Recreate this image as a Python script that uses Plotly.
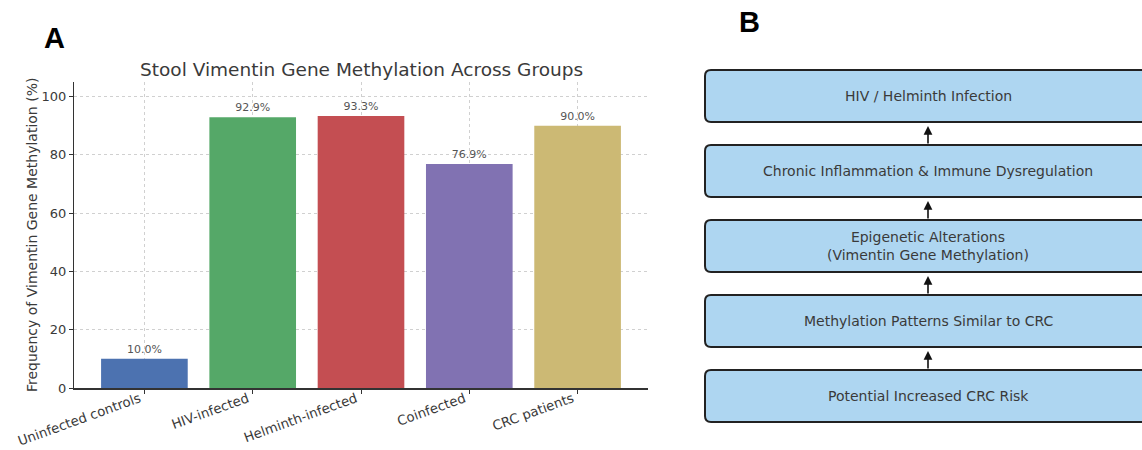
import plotly.graph_objects as go

# ---------------- data ----------------
groups = ["Uninfected controls", "HIV-infected", "Helminth-infected", "Coinfected", "CRC patients"]
methylation_pct = [10.0, 92.9, 93.3, 76.9, 90.0]
bar_colors = ["#4C72B0", "#55A868", "#C44E52", "#8172B2", "#CCB974"]
y_ticks = [0, 20, 40, 60, 80, 100]

flow_steps = [
    "HIV / Helminth Infection",
    "Chronic Inflammation & Immune Dysregulation",
    "Epigenetic Alterations<br>(Vimentin Gene Methylation)",
    "Methylation Patterns Similar to CRC",
    "Potential Increased CRC Risk",
]

W, H = 1142, 450
FONT = "DejaVu Sans"
TXT = "#3a3a3a"

fig = go.Figure()

# ---------------- panel A: bar chart ----------------
fig.add_trace(go.Bar(
    x=groups, y=methylation_pct,
    marker=dict(color=bar_colors, line=dict(width=0)),
    width=0.8,
    text=[f"{v:.1f}%" for v in methylation_pct],
    textposition="outside",
    textfont=dict(family=FONT, size=11, color="#555"),
    cliponaxis=False,
    xaxis="x", yaxis="y",
    showlegend=False,
))

# ---------------- panel B: flow chart ----------------
B_LEFT = 665
bx0, bx1 = 705, 1151
top0, step, bh, r = 70, 75, 52, 6
shapes = []
annotations = []
for i, label in enumerate(flow_steps):
    y0 = top0 + i * step
    y1 = y0 + bh
    path = (f"M {bx0+r},{y0} L {bx1-r},{y0} Q {bx1},{y0} {bx1},{y0+r} "
            f"L {bx1},{y1-r} Q {bx1},{y1} {bx1-r},{y1} L {bx0+r},{y1} "
            f"Q {bx0},{y1} {bx0},{y1-r} L {bx0},{y0+r} Q {bx0},{y0} {bx0+r},{y0} Z")
    shapes.append(dict(type="path", path=path, xref="x2", yref="y2",
                       fillcolor="#AED6F1", line=dict(color="#222", width=2), layer="below"))
    annotations.append(dict(x=(bx0 + bx1) / 2, y=(y0 + y1) / 2, xref="x2", yref="y2",
                            text=label, showarrow=False,
                            font=dict(family=FONT, size=14, color=TXT)))
    if i > 0:
        prev_bottom = top0 + (i - 1) * step + bh
        annotations.append(dict(x=(bx0 + bx1) / 2, y=prev_bottom + 4, xref="x2", yref="y2",
                                ax=(bx0 + bx1) / 2, ay=y0, axref="x2", ayref="y2",
                                text="", showarrow=True, arrowhead=2, arrowsize=1.1,
                                arrowwidth=1.6, arrowcolor="#111"))

# hidden trace to anchor panel B axes
fig.add_trace(go.Scatter(x=[bx0], y=[top0], xaxis="x2", yaxis="y2", mode="markers",
                         marker=dict(opacity=0), showlegend=False, hoverinfo="skip"))

# ---------------- text ----------------
annotations += [
    dict(text="Stool Vimentin Gene Methylation Across Groups", x=361 / W, y=1 - 69 / H,
         xref="paper", yref="paper", showarrow=False, xanchor="center", yanchor="middle",
         font=dict(family=FONT, size=18.5, color=TXT)),
    dict(text="Frequency of Vimentin Gene Methylation (%)", x=32 / W, y=1 - 235 / H,
         xref="paper", yref="paper", showarrow=False, textangle=-90,
         xanchor="center", yanchor="middle",
         font=dict(family=FONT, size=14, color=TXT)),
    dict(text="<b>A</b>", x=55 / W, y=1 - 38 / H, xref="paper", yref="paper",
         showarrow=False, xanchor="center", yanchor="middle",
         font=dict(family="Liberation Sans", size=29, color="#000")),
    dict(text="<b>B</b>", x=749 / W, y=1 - 22 / H, xref="paper", yref="paper",
         showarrow=False, xanchor="center", yanchor="middle",
         font=dict(family="Liberation Sans", size=29, color="#000")),
]

fig.update_layout(
    width=W, height=H,
    margin=dict(l=0, r=0, t=0, b=0, autoexpand=False),
    paper_bgcolor="white", plot_bgcolor="rgba(0,0,0,0)",
    bargap=0.2,
    xaxis=dict(domain=[74 / W, 648 / W], range=[-0.65, 4.65], automargin=False,
               showgrid=True, gridcolor="#d0d0d0", griddash="dot", gridwidth=1,
               showline=True, linecolor="#333", linewidth=2,
               ticks="outside", ticklen=4, tickcolor="#333", tickangle=-20,
               ticklabelshift=-5, ticklabelstandoff=-8,
               tickfont=dict(family=FONT, size=13.3, color=TXT), zeroline=False,
               anchor="y"),
    yaxis=dict(domain=[1 - 388 / H, 1 - 82 / H], range=[0, 105], automargin=False,
               tickvals=y_ticks,
               showgrid=True, gridcolor="#d0d0d0", griddash="dot", gridwidth=1,
               showline=True, linecolor="#333", linewidth=1.2,
               ticks="outside", ticklen=4, tickcolor="#333",
               tickfont=dict(family=FONT, size=13, color=TXT), zeroline=False,
               anchor="x"),
    xaxis2=dict(domain=[B_LEFT / W, 1], range=[B_LEFT, W], visible=False, anchor="y2",
                automargin=False),
    yaxis2=dict(domain=[0, 1], range=[H, 0], visible=False, anchor="x2",
                automargin=False),
    shapes=shapes,
    annotations=annotations,
)

fig.write_html("out.html", config={"displayModeBar": False},
               post_script="document.body.style.margin='0';document.body.style.padding='0';")
